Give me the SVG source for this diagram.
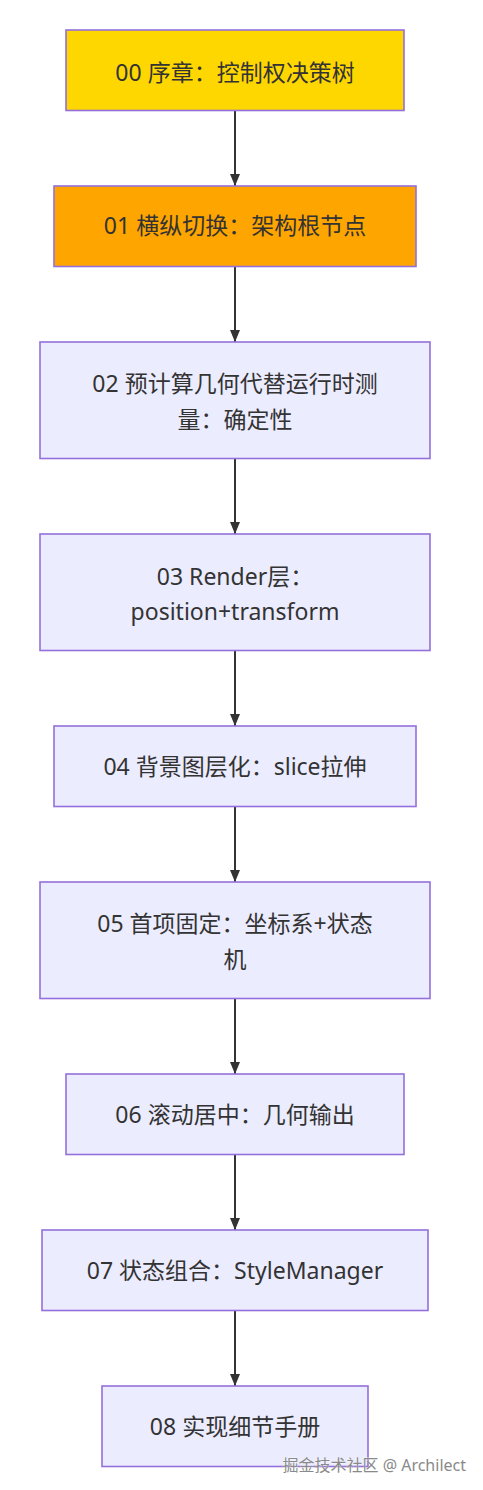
<svg xmlns="http://www.w3.org/2000/svg" width="483" height="1490" viewBox="0 0 483 1490">
<style>
.n rect{fill:#ECECFF;stroke:#9370DB;stroke-width:1.6}
.n text{font-family:"Noto Sans","Noto Sans CJK SC",sans-serif;font-size:23px;fill:#333;text-anchor:middle}
#n0 rect{fill:#FFD700}
#n1 rect{fill:#FFA500}
.e line{stroke:#333;stroke-width:2;fill:none}
.wm{font-family:"Noto Sans","Noto Sans CJK SC",sans-serif;font-size:16px;fill:#8a8a8a;stroke:#fff;stroke-width:0.4;paint-order:stroke}
</style>
<defs>
<marker id="ah" viewBox="0 0 12 10" refX="12" refY="5" markerWidth="12" markerHeight="10" markerUnits="userSpaceOnUse" orient="auto">
<path d="M0,0 L12,5 L0,10 z" fill="#333"/>
</marker>
</defs>
<rect width="483" height="1490" fill="#fff"/>
<g id="edges" class="e">
<line x1="235" y1="111" x2="235" y2="186" marker-end="url(#ah)"/>
<line x1="235" y1="267" x2="235" y2="342" marker-end="url(#ah)"/>
<line x1="235" y1="459" x2="235" y2="534" marker-end="url(#ah)"/>
<line x1="235" y1="651" x2="235" y2="726" marker-end="url(#ah)"/>
<line x1="235" y1="807" x2="235" y2="882" marker-end="url(#ah)"/>
<line x1="235" y1="999" x2="235" y2="1074" marker-end="url(#ah)"/>
<line x1="235" y1="1155" x2="235" y2="1230" marker-end="url(#ah)"/>
<line x1="235" y1="1311" x2="235" y2="1386" marker-end="url(#ah)"/>
</g>
<g id="n0" class="n"><rect x="66" y="30" width="338" height="80.5"/><text x="235" y="81">00 序章：控制权决策树</text></g>
<g id="n1" class="n"><rect x="54" y="186" width="362" height="80.5"/><text x="235" y="234">01 横纵切换：架构根节点</text></g>
<g id="n2" class="n"><rect x="40" y="342" width="390" height="116.5"/><text x="235" y="392">02 预计算几何代替运行时测</text><text x="235" y="428">量：确定性</text></g>
<g id="n3" class="n"><rect x="40" y="534" width="390" height="116.5"/><text x="235" y="585">03 Render层：</text><text x="235" y="620">position+transform</text></g>
<g id="n4" class="n"><rect x="54" y="726" width="362" height="80.5"/><text x="235" y="775">04 背景图层化：slice拉伸</text></g>
<g id="n5" class="n"><rect x="40" y="882" width="390" height="116.5"/><text x="235" y="932">05 首项固定：坐标系+状态</text><text x="235" y="968">机</text></g>
<g id="n6" class="n"><rect x="66" y="1074" width="338" height="80.5"/><text x="235" y="1123">06 滚动居中：几何输出</text></g>
<g id="n7" class="n"><rect x="42" y="1230" width="386" height="80.5"/><text x="235" y="1279">07 状态组合：StyleManager</text></g>
<g id="n8" class="n"><rect x="102" y="1386" width="266" height="80.5"/><text x="235" y="1435">08 实现细节手册</text></g>
<text class="wm" x="466" y="1471" text-anchor="end">掘金技术社区 @ Archilect</text>
</svg>
